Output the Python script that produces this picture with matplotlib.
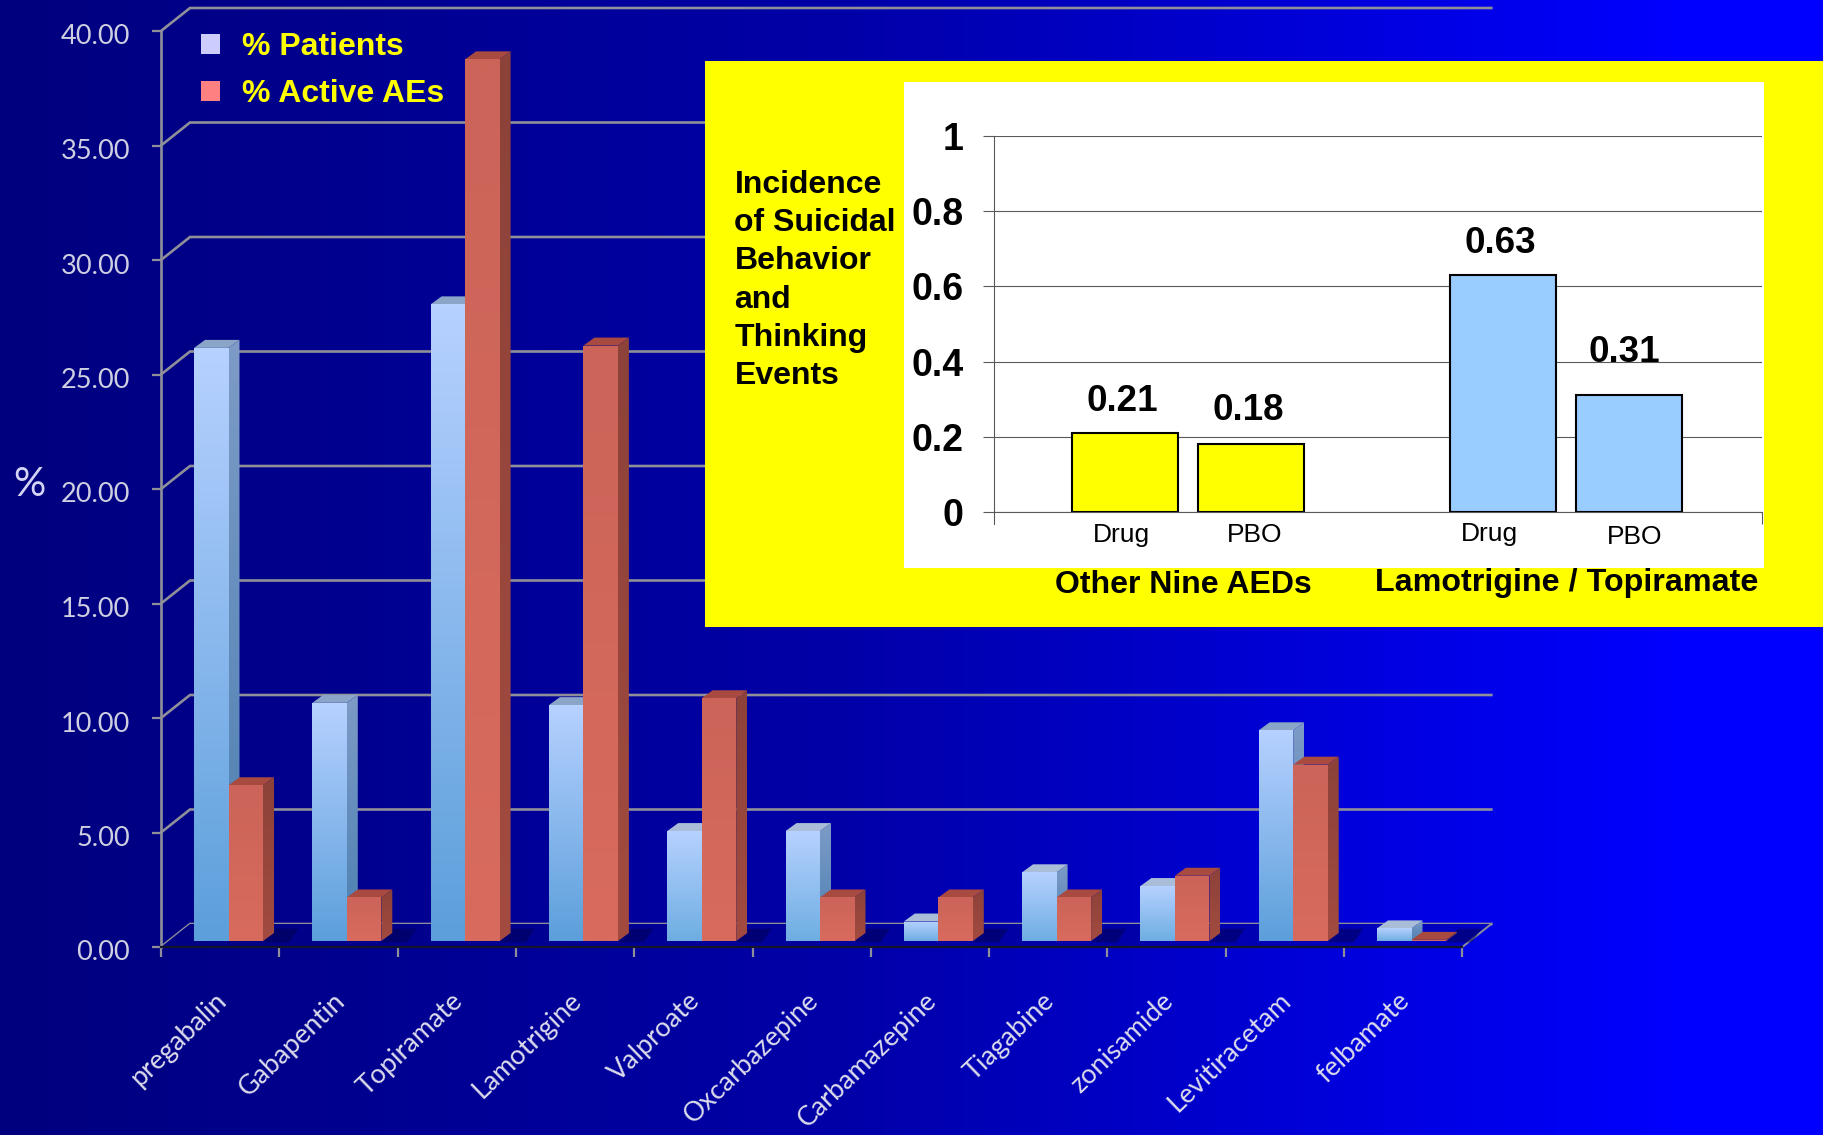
import numpy as np
import matplotlib
matplotlib.use('Agg')
import matplotlib.pyplot as plt
from matplotlib.colors import LinearSegmentedColormap, to_rgb
from matplotlib.patches import Patch, Polygon, Rectangle
from matplotlib.transforms import ScaledTranslation

drugs = ['pregabalin', 'Gabapentin', 'Topiramate', 'Lamotrigine', 'Valproate',
         'Oxcarbazepine', 'Carbamazepine', 'Tiagabine', 'zonisamide',
         'Levitiracetam', 'felbamate']
pct_patients = [25.9, 10.4, 27.8, 10.3, 4.8, 4.8, 0.85, 3.0, 2.4, 9.2, 0.55]
pct_active_aes = [6.8, 1.9, 38.5, 26.0, 10.6, 1.9, 1.9, 1.9, 2.85, 7.7, 0.05]
main_yticks = [0, 5, 10, 15, 20, 25, 30, 35, 40]

inset_groups = ['Other Nine AEDs', 'Lamotrigine / Topiramate']
inset_bar_names = ['Drug', 'PBO', 'Drug', 'PBO']
inset_values = [0.21, 0.18, 0.63, 0.31]
inset_yticks = [0, 0.2, 0.4, 0.6, 0.8, 1]
inset_ylabels = ['0', '0.2', '0.4', '0.6', '0.8', '1']
inset_title = ['Incidence', 'of Suicidal', 'Behavior', 'and', 'Thinking', 'Events']

W, H = 1823, 1135
SANS = 'Liberation Sans'
CHART = 'Lato'
GREY = '#8f8f99'

fig = plt.figure(figsize=(W / 100, H / 100), dpi=100)

# main axes fills the figure, one x unit = one drug group
x_px, y_px = 118.3, 22.9
x0_px, y0_px = 161, 947
ax = fig.add_axes([0, 0, 1, 1])
ax.set_autoscale_on(False)
ax.set_xlim(-x0_px / x_px, (W - x0_px) / x_px)
ax.set_ylim((y0_px - H) / y_px, y0_px / y_px)
xlim, ylim = ax.get_xlim(), ax.get_ylim()

bg_cmap = LinearSegmentedColormap.from_list('bg', ['#00007e', '#0000a8', '#0000ff'], N=256)
xgrad = np.clip(np.linspace(0, 1, 600) * 1.08, 0, 1).reshape(1, -1)
ax.imshow(xgrad, extent=(*xlim, *ylim), cmap=bg_cmap, vmin=0, vmax=1, aspect='auto', zorder=0)


def gradient_poly(verts, top, bottom, zorder):
    # vertical colour ramp clipped to a polygon
    verts = np.array(verts)
    ramp = np.linspace(0, 1, 64)[:, None, None]
    img = (1 - ramp) * np.array(to_rgb(top)) + ramp * np.array(to_rgb(bottom))
    im = ax.imshow(img, aspect='auto', zorder=zorder, interpolation='bilinear',
                   extent=(verts[:, 0].min(), verts[:, 0].max(),
                           verts[:, 1].min(), verts[:, 1].max()))
    clip = Polygon(verts, closed=True, transform=ax.transData)
    im.set_clip_path(clip)


def box(x, value, width, front, side, top, zorder):
    lift = 6 / y_px
    dx, dy = 11 / x_px, 8 / y_px
    y1 = value + lift
    gradient_poly([(x + width, lift), (x + width + dx, lift + dy),
                   (x + width + dx, y1 + dy), (x + width, y1)], side[0], side[1], zorder)
    ax.add_patch(Polygon([(x, y1), (x + width, y1), (x + width + dx, y1 + dy), (x + dx, y1 + dy)],
                         closed=True, fc=top, ec='none', zorder=zorder))
    gradient_poly([(x, lift), (x + width, lift), (x + width, y1), (x, y1)],
                  front[0], front[1], zorder)


# back wall gridlines and the floor
depth_x, depth_y = 29 / x_px, 23 / y_px
for v in main_yticks:
    ax.plot([0, depth_x, 11 + depth_x], [v, v + depth_y, v + depth_y],
            color=GREY, lw=1.9, zorder=1, solid_joinstyle='miter')

floor = Polygon([(0, 0), (depth_x, depth_y), (11 + depth_x, depth_y), (11, 0)],
                closed=True, transform=ax.transData)
floor_img = ax.imshow(xgrad * 0.76, extent=(*xlim, *ylim), cmap=bg_cmap, vmin=0, vmax=1,
                      aspect='auto', zorder=1.5)
floor_img.set_clip_path(floor)
ax.plot([11, 11 + depth_x], [0, depth_y], color=GREY, lw=1.4, zorder=1.6)

# bars, left to right so later groups overlap earlier ones
start = 33 / x_px
bar_w = 34.5 / x_px
for i in range(len(drugs)):
    x = i + start
    # soft shadow on the floor behind each pair
    ax.add_patch(Polygon([(x + 2 * bar_w, 0.2), (x + 2 * bar_w + 0.22, 0.2),
                          (x + 2 * bar_w + 0.3, 0.8), (x + 2 * bar_w + 0.1, 0.8)],
                         closed=True, fc='#000050', alpha=0.5, ec='none', zorder=1.7))
    short = pct_patients[i] < 6
    blue_top = '#a9bdd8' if short else '#8aa5c8'
    box(x, pct_patients[i], bar_w, ('#b6d1ff', '#5c9fdb' if not short else '#6eaee2'),
        ('#7d9bc6', '#4a7fb2'), blue_top, 2 + i * 0.1)
    box(x + bar_w, pct_active_aes[i], bar_w, ('#cc6459', '#d86b5d'),
        ('#8c4239', '#a34b40'), '#a84a3f', 2.05 + i * 0.1)

# axis lines and ticks
for s in ['top', 'right']:
    ax.spines[s].set_visible(False)
ax.spines['left'].set_position(('data', 0))
ax.spines['left'].set_bounds(0, 40)
ax.spines['left'].set_color(GREY)
ax.spines['left'].set_linewidth(1.9)
ax.spines['bottom'].set_position(('data', 0))
ax.spines['bottom'].set_bounds(0, 11)
ax.spines['bottom'].set_color('#15152a')
ax.spines['bottom'].set_linewidth(1.6)
for s in ax.spines.values():
    s.set_zorder(3.5)
ax.set_yticks(main_yticks, ['%.2f' % v for v in main_yticks])
ax.set_xticks(range(12), [''] * 12)
ax.tick_params(axis='y', length=6.5, width=1.6, color=GREY, pad=15,
               labelsize=19.5, labelcolor='#cfcfe2')
ax.tick_params(axis='x', length=7, width=1.6, color=GREY)
nudge = ScaledTranslation(-1 / 100, -3.5 / 100, fig.dpi_scale_trans)
for t in ax.get_yticklabels():
    t.set_fontfamily(CHART)
    t.set_transform(t.get_transform() + nudge)

for i, name in enumerate(drugs):
    ax.annotate(name, xy=(i + 0.5, 0), xytext=(-6 / 1.389, -41 / 1.389),
                textcoords='offset points', rotation=44, rotation_mode='anchor',
                ha='right', va='top', fontsize=19.4, family=CHART, color='#dcdcec')

ax.text((29 - x0_px) / x_px, (y0_px - 485) / y_px, '%', ha='center', va='center',
        fontsize=29, family=CHART, color='#d4d4f4')

handles = [Patch(fc='#ccccff', ec='none'), Patch(fc='#ff8080', ec='none')]
ax.legend(handles, ['% Patients', '% Active AEs'], loc='upper left',
          bbox_to_anchor=(201 / W, 1 - 32 / H), frameon=False, borderpad=0, borderaxespad=0,
          handlelength=0.6, handleheight=0.6, handletextpad=0.68, labelspacing=0.54,
          labelcolor='#ffff00', prop={'family': SANS, 'weight': 'bold', 'size': 23})

# yellow panel with the suicidality inset
fig.add_artist(Rectangle((705 / W, 1 - 627 / H), (W - 705) / W, (627 - 60.5) / H,
                         transform=fig.transFigure, fc='#ffff00', ec='none', zorder=2))
fig.add_artist(Rectangle((904 / W, 1 - 568 / H), (1764 - 904) / W, (568 - 82) / H,
                         transform=fig.transFigure, fc='white', ec='none', zorder=2.1))

ax2 = fig.add_axes([994 / W, 1 - 512 / H, (1762 - 994) / W, (512 - 136) / H])
ax2.set_zorder(3)
ax2.patch.set_visible(False)
slot = 126
ax2.set_xlim((994 - 1125) / slot, (1762 - 1125) / slot)
ax2.set_ylim(0, 1)
inset_x = [0, 1, 3, 4]
inset_colors = ['#ffff00', '#ffff00', '#99ccff', '#99ccff']
ax2.bar(inset_x, inset_values, width=105.5 / slot, color=inset_colors, edgecolor='black',
        linewidth=1.5, zorder=3)
ax2.set_axisbelow(True)
ax2.yaxis.grid(True, color='#5a5a5a', lw=0.8)
ax2.set_yticks(inset_yticks, inset_ylabels)
ax2.set_xticks([ax2.get_xlim()[1]], [''])
ax2.tick_params(axis='y', length=8, width=0.8, color='#5a5a5a', pad=14, labelsize=27)
ax2.tick_params(axis='x', length=8.6, width=0.8, color='#5a5a5a')
for t in ax2.get_yticklabels():
    t.set_fontfamily(SANS)
    t.set_fontweight('bold')
for s in ['top', 'right']:
    ax2.spines[s].set_visible(False)
ax2.spines['left'].set_color('#5a5a5a')
ax2.spines['left'].set_linewidth(0.8)
ax2.spines['left'].set_bounds(-12 / 376, 1)
ax2.spines['bottom'].set_color('#5a5a5a')
ax2.spines['bottom'].set_linewidth(0.8)

label_shift = {0.21: (-3, 32), 0.18: (-3, 34), 0.63: (-3, 32), 0.31: (-5, 43)}
for x, v in zip(inset_x, inset_values):
    sx, sy = label_shift[v]
    ax2.annotate('%.2f' % v, xy=(x, v), xytext=(sx / 1.389, sy / 1.389),
                 textcoords='offset points', ha='center', va='center',
                 fontsize=26.5, family=SANS, fontweight='bold', color='black')

name_shift = [(-4, 23), (4, 23), (-14, 22), (6, 25)]
for x, name, (sx, sy) in zip(inset_x, inset_bar_names, name_shift):
    ax2.annotate(name, xy=(x, 0), xytext=(sx / 1.389, -sy / 1.389),
                 textcoords='offset points', ha='center', va='center',
                 fontsize=19, family=SANS, color='black', annotation_clip=False)

for i, line in enumerate(inset_title):
    fig.text(734.5 / W, 1 - (193 + 38.2 * i) / H, line, ha='left', va='baseline',
             fontsize=23, family=SANS, fontweight='bold', color='black', zorder=4)
fig.text(1183 / W, 1 - 585 / H, inset_groups[0], ha='center', va='center', fontsize=23,
         family=SANS, fontweight='bold', color='black', zorder=4)
fig.text(1567 / W, 1 - 583 / H, inset_groups[1], ha='center', va='center', fontsize=23.2,
         family=SANS, fontweight='bold', color='black', zorder=4)

fig.savefig('out.png', dpi=100)
